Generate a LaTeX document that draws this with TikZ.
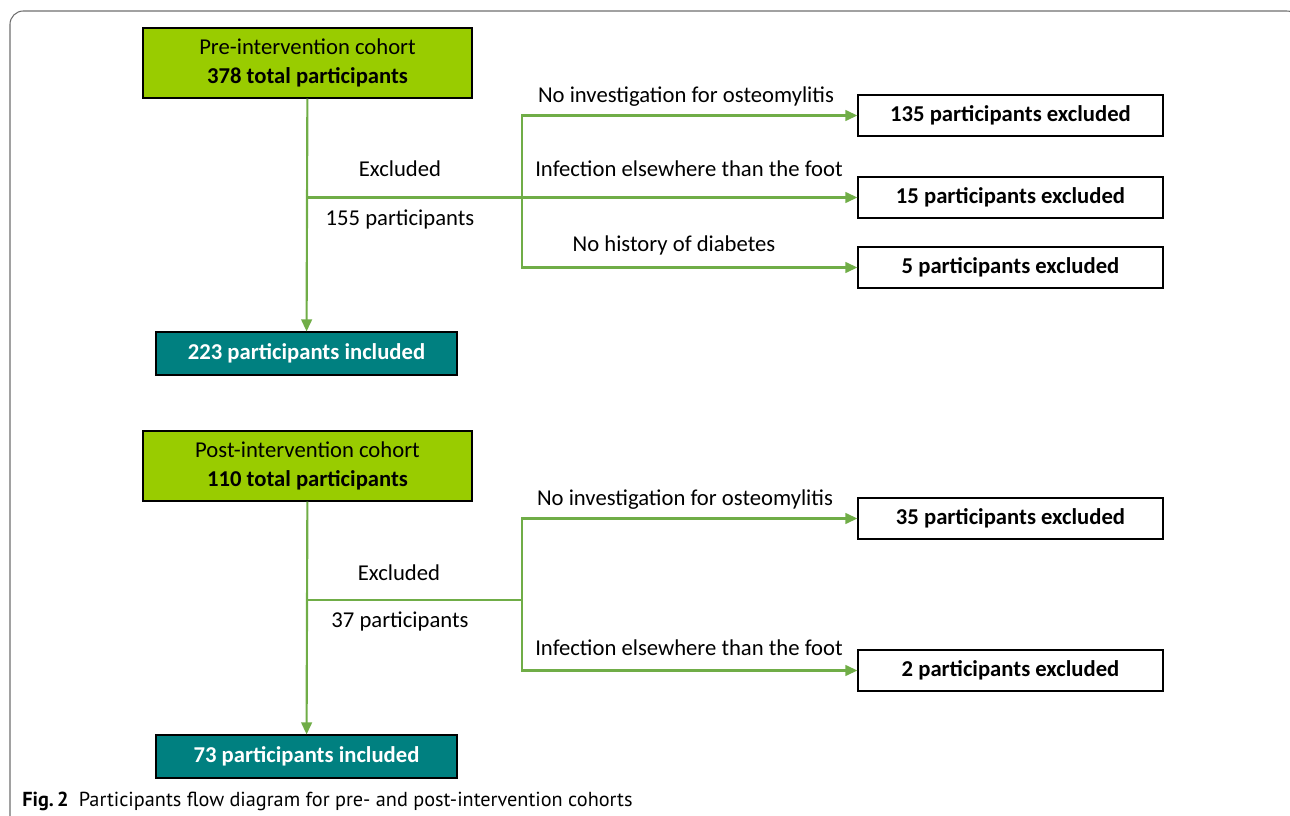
\documentclass[tikz,border=0pt]{standalone}
\usepackage{fontspec}
\setmainfont{Carlito}
\newfontfamily\capfont{PT Sans}
\usetikzlibrary{arrows.meta}
\definecolor{cohortgreen}{HTML}{99CC00}
\definecolor{inclteal}{HTML}{008080}
\definecolor{flowgreen}{HTML}{70AD47}
\definecolor{framegray}{HTML}{6E6E6E}
\newcommand\flowsize{\fontsize{17}{21.75}\selectfont}

\tikzset{
  cohort/.style={draw, line width=0.9pt, fill=cohortgreen, minimum width=246.75pt, minimum height=52.5pt, align=center, inner sep=0pt},
  incl/.style={draw, line width=0.9pt, fill=inclteal, text=white, font=\flowsize\bfseries, minimum width=225.75pt, minimum height=32.25pt, inner sep=0pt},
  excl/.style={draw, line width=0.9pt, fill=white, font=\flowsize\bfseries, minimum width=228.75pt, minimum height=30.75pt, inner sep=0pt},
  lbl/.style={inner sep=0pt},
  flow/.style={draw=flowgreen, line width=1.6pt},
  flowarrow/.style={flow, -{Triangle[length=9pt, width=8pt]}}
}

\begin{document}
\begin{tikzpicture}[x=0.75pt, y=-0.75pt, font=\flowsize]
  \useasboundingbox (0,0) rectangle (1290,816);
  % outer frame
  \draw[framegray, line width=0.8pt, rounded corners=10pt] (10,840) -- (10,11) -- (1300,11) -- (1300,840);

  % pre-intervention cohort
  \node[cohort] (pre) at (307.5,63) {Pre-intervention cohort\\\textbf{378 total participants}};
  \node[incl] (preincl) at (306.5,353.5) {223 participants included};
  \node[excl] (preexa) at (1010.5,115.5) {135 participants excluded};
  \node[excl] (preexb) at (1010.5,197.5) {15 participants excluded};
  \node[excl] (preexc) at (1010.5,267.5) {5 participants excluded};
  \coordinate (prejoin) at (307,197.5);
  \coordinate (presplit) at (522,197.5);
  \node[lbl] (preexcl) at (400,169) {Excluded};
  \node[lbl] (precount) at (400,219) {155 participants};
  \node[lbl] (prelbla) at (686,97) {No investigation for osteomylitis};
  \node[lbl] (prelblb) at (689,169) {Infection elsewhere than the foot};
  \node[lbl] (prelblc) at (674,245) {No history of diabetes};
  % connectors
  \draw[flowarrow] (pre) -- (preincl);
  \draw[flow] (prejoin) -- (presplit);
  \draw[flowarrow] (presplit) |- (preexa);
  \draw[flowarrow] (presplit) -- (preexb);
  \draw[flowarrow] (presplit) |- (preexc);

  % post-intervention cohort
  \node[cohort] (post) at (307.5,466) {Post-intervention cohort\\\textbf{110 total participants}};
  \node[incl] (postincl) at (306.5,756.5) {73 participants included};
  \node[excl] (postexa) at (1010.5,518.5) {35 participants excluded};
  \node[excl] (postexb) at (1010.5,670.5) {2 participants excluded};
  \coordinate (postjoin) at (307,600);
  \coordinate (postsplit) at (522,600);
  \node[lbl] (postexcl) at (399,573) {Excluded};
  \node[lbl] (postcount) at (400,621) {37 participants};
  \node[lbl] (postlbla) at (685,500) {No investigation for osteomylitis};
  \node[lbl] (postlblb) at (689,648) {Infection elsewhere than the foot};
  % connectors
  \draw[flowarrow] (post) -- (postincl);
  \draw[flow] (postjoin) -- (postsplit);
  \draw[flowarrow] (postsplit) |- (postexa);
  \draw[flowarrow] (postsplit) |- (postexb);

  % caption
  \node[lbl, anchor=west, font=\capfont\fontsize{15.2}{18}\selectfont] (caption) at (22,801) {\textbf{Fig.\,2}\enspace Participants flow diagram for pre- and post-intervention cohorts};
\end{tikzpicture}
\end{document}
